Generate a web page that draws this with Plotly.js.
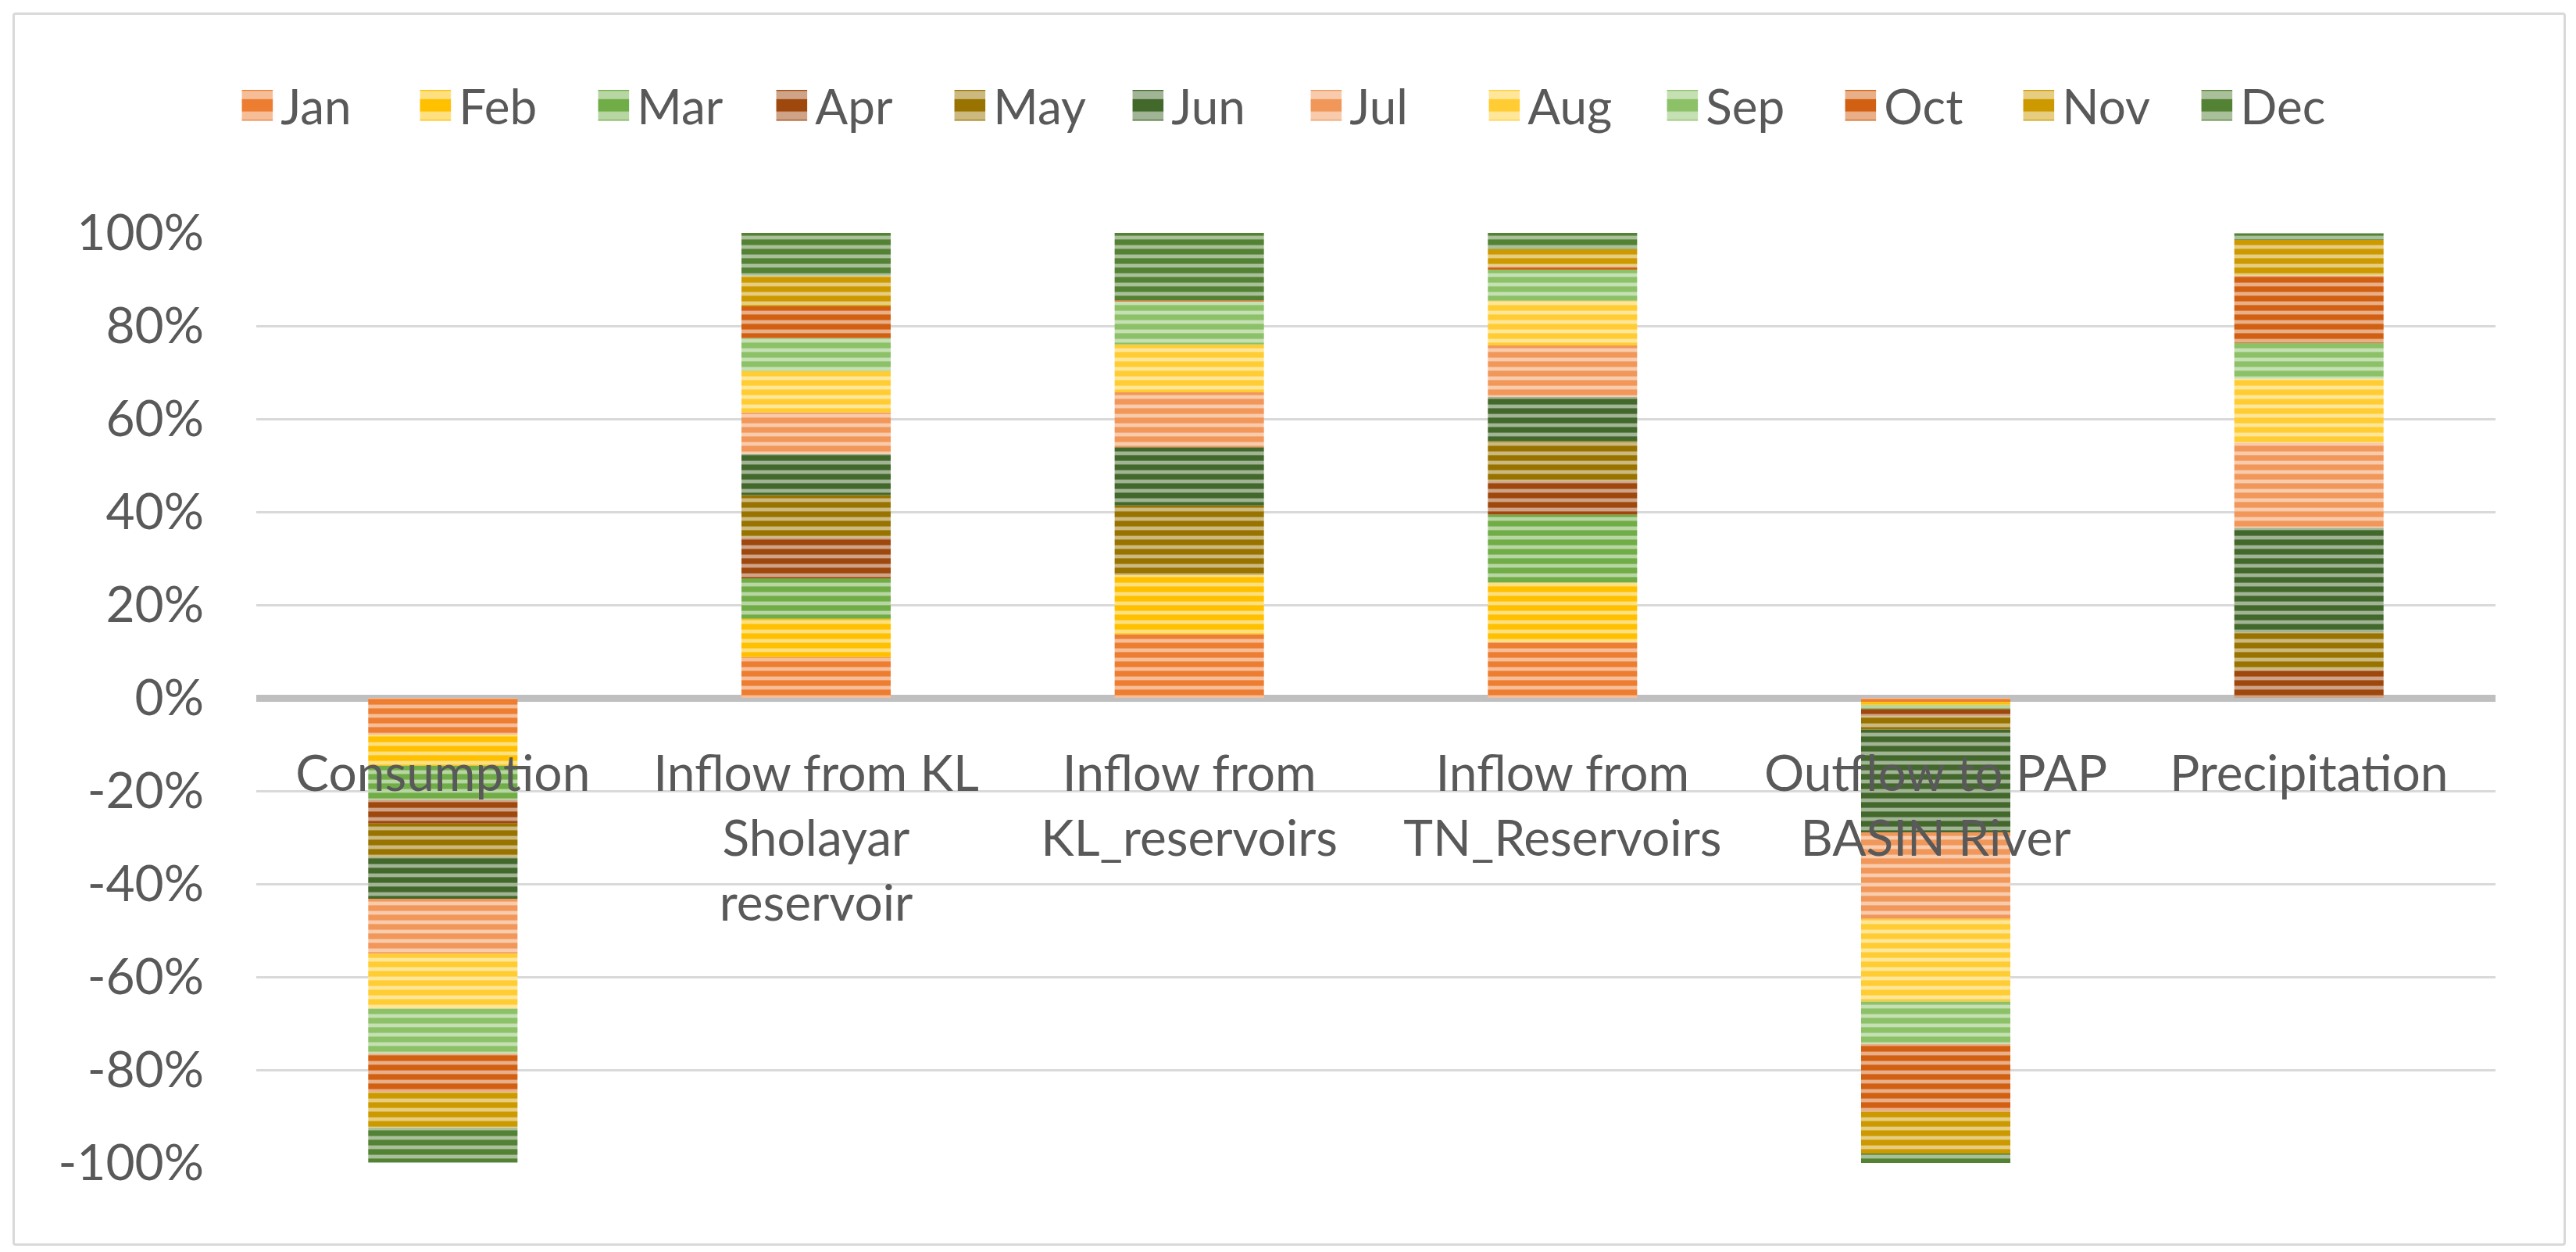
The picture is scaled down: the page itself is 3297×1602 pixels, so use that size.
<!DOCTYPE html>
<html>
<head>
<meta charset="utf-8">
<script src="https://cdn.plot.ly/plotly-3.0.1.min.js"></script>
<style>
  html, body { margin: 0; padding: 0; background: #ffffff; }
  #wrap { position: relative; width: 3297px; height: 1602px; }
  #chart { width: 3297px; height: 1602px; }
  #frame { position: absolute; left: 16px; top: 16px; width: 3262px; height: 1572px;
           border: 3px solid #D9D9D9; border-radius: 4px; pointer-events: none; }
</style>
</head>
<body>
<div id="wrap">
  <div id="chart"></div>
  <div id="frame"></div>
</div>
<script>
// ---- data (percent share of each month in each flow) ----
const categories = ["Consumption", "Inflow from KL<br>Sholayar<br>reservoir", "Inflow from<br>KL_reservoirs",
                    "Inflow from<br>TN_Reservoirs", "Outflow to PAP<br>BASIN River", "Precipitation"];
const months = ["Jan","Feb","Mar","Apr","May","Jun","Jul","Aug","Sep","Oct","Nov","Dec"];

const jan = [-7.9, 8.8, 13.7, 12.0, -0.9, 0.0];
const feb = [-6.7, 8.2, 12.7, 12.8, -0.6, 0.0];
const mar = [-7.3, 8.7,  0.0, 14.6, -0.9, 0.0];
const apr = [-5.1, 8.9,  0.0,  7.3, -1.5, 6.0];
const may = [-7.3, 9.0, 15.0,  8.5, -2.9, 8.1];
const jun = [-8.9, 8.9, 12.5,  9.5, -22.1, 22.5];
const jul = [-11.8, 8.9, 11.8, 11.1, -18.6, 18.3];
const aug = [-11.8, 8.9, 10.3,  9.6, -17.8, 13.7];
const sep = [-9.7, 7.1,  9.2,  6.7, -9.1, 7.7];
const oct = [-8.2, 6.8,  0.3,  0.7, -14.6, 14.5];
const nov = [-7.7, 6.6,  0.0,  3.7, -9.0, 7.7];
const dec = [-7.5, 9.2, 14.5,  3.5, -2.0, 1.4];

const tickVals = [100, 80, 60, 40, 20, 0, -20, -40, -60, -80, -100];
const tickText = ["100%","80%","60%","40%","20%","0%","-20%","-40%","-60%","-80%","-100%"];

// ---- styles ----
const baseColors  = ["#ED7D31","#FFC000","#70AD47","#9E480E","#997300","#43682B",
                     "#F1975A","#FFCD33","#8CC168","#D26012","#CC9A00","#548235"];
const lightColors = ["#F6BE98","#FFE080","#B8D6A3","#CFA387","#CCB980","#A1B495",
                     "#F8CBAC","#FFE699","#C5E0B3","#E9AF88","#E6CD80","#AAC09A"];

const series = [jan, feb, mar, apr, may, jun, jul, aug, sep, oct, nov, dec];
const FONT = "Lato, 'Open Sans', sans-serif";
const TXT = "#595959";

const traces = series.map((vals, i) => ({
  type: "bar",
  name: months[i],
  x: categories,
  y: vals,
  marker: {
    color: baseColors[i],
    line: { width: 0 },
    pattern: { shape: "-", bgcolor: baseColors[i], fgcolor: lightColors[i],
               size: 12, solidity: 0.4, fillmode: "replace" }
  },
  hoverinfo: "name+y"
}));

const layout = {
  width: 3297, height: 1602,
  paper_bgcolor: "#ffffff", plot_bgcolor: "#ffffff",
  barmode: "relative",
  bargap: 0.6,
  margin: { l: 328, r: 103, t: 298, b: 114 },
  font: { family: FONT, size: 64, color: TXT },
  showlegend: true,
  legend: {
    orientation: "h",
    xref: "paper", yref: "paper",
    x: -0.01, xanchor: "left",
    y: 1.137, yanchor: "middle",
    font: { family: FONT, size: 62, color: TXT },
    itemwidth: 50,
    entrywidth: 163, entrywidthmode: "pixels",
    traceorder: "normal",
    bgcolor: "rgba(0,0,0,0)"
  },
  xaxis: {
    type: "category",
    anchor: "free", position: 0.5,
    showgrid: false, showline: false, zeroline: false,
    ticks: "", ticklabelstandoff: 54,
    tickfont: { family: FONT, size: 64, color: TXT },
    tickangle: 0
  },
  yaxis: {
    range: [-100, 100],
    tickvals: tickVals, ticktext: tickText,
    showgrid: true, gridcolor: "#D9D9D9", gridwidth: 3,
    zeroline: true, zerolinecolor: "#BFBFBF", zerolinewidth: 9,
    showline: false, ticks: "", ticklabelstandoff: 66,
    tickfont: { family: FONT, size: 64, color: TXT }
  }
};

Plotly.newPlot("chart", traces, layout, { displayModeBar: false, staticPlot: true }).then(() => {
  document.querySelectorAll("#chart .legend .legendpoints path").forEach(p => {
    const t = p.getAttribute("transform") || "";
    p.setAttribute("transform", t + " scale(3.3)");
  });
});
</script>
</body>
</html>
